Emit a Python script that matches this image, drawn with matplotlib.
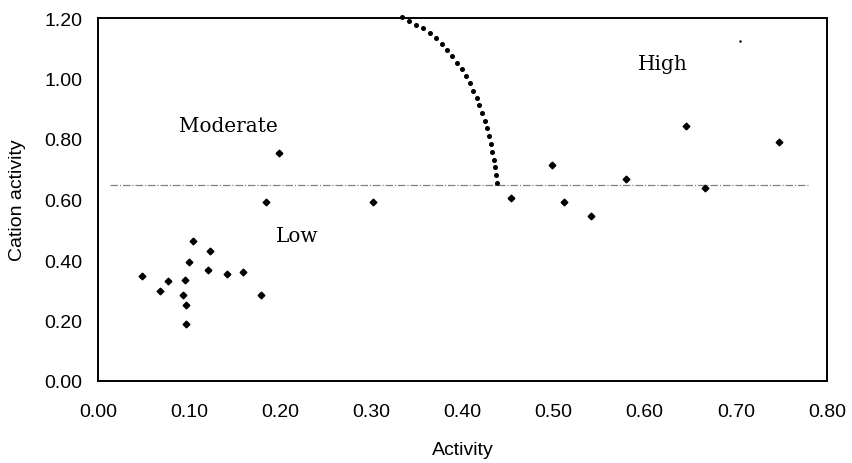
import matplotlib
matplotlib.use("Agg")
import matplotlib.pyplot as plt

# Scatter data (Activity, Cation activity)
activity = [0.048, 0.068, 0.0765, 0.093, 0.0955, 0.097, 0.097, 0.0995, 0.104,
            0.121, 0.1226, 0.142, 0.159, 0.1786, 0.1844, 0.199, 0.3015,
            0.4537, 0.4987, 0.511, 0.5407, 0.579, 0.645, 0.666, 0.7468]
cation = [0.348, 0.296, 0.330, 0.284, 0.335, 0.251, 0.187, 0.392, 0.463,
          0.367, 0.431, 0.354, 0.360, 0.283, 0.592, 0.753, 0.592,
          0.605, 0.714, 0.592, 0.546, 0.668, 0.842, 0.637, 0.791]

# stray mark
stray_x = [0.704]
stray_y = [1.125]

# Boundary curve (dotted)
curve_x = [0.334, 0.3418, 0.349, 0.357, 0.3644, 0.371, 0.3773, 0.3834, 0.389,
           0.3944, 0.3992, 0.404, 0.408, 0.412, 0.4157, 0.4186, 0.4219, 0.4245,
           0.427, 0.4292, 0.431, 0.4328, 0.4343, 0.4358, 0.4369, 0.4376]
curve_y = [1.202, 1.191, 1.178, 1.166, 1.149, 1.133, 1.114, 1.094, 1.073,
           1.052, 1.030, 1.007, 0.984, 0.960, 0.936, 0.911, 0.885, 0.861,
           0.836, 0.810, 0.783, 0.758, 0.732, 0.706, 0.681, 0.655]

# Horizontal threshold line
thresh_y = 0.648
thresh_x = [0.013, 0.779]

# Region labels
region_labels = ["Moderate", "Low", "High"]
region_x = [0.143, 0.219, 0.620]
region_y = [0.843, 0.480, 1.051]

xticks = [0.0, 0.1, 0.2, 0.3, 0.4, 0.5, 0.6, 0.7, 0.8]
yticks = [0.0, 0.2, 0.4, 0.6, 0.8, 1.0, 1.2]

plt.rcParams['font.family'] = ['Liberation Sans', 'DejaVu Sans']

fig = plt.figure(figsize=(8.52, 4.64), dpi=100)
ax = fig.add_axes([98/852, 1 - 382/464, (827-98)/852, (382-19)/464])

ax.plot(thresh_x, [thresh_y, thresh_y], color='#808080', lw=0.9,
        linestyle=(0, (6, 1.5, 1, 1.5)), zorder=1)
ax.plot(curve_x, curve_y, linestyle='none', marker='o', ms=2.6,
        color='black', clip_on=False, zorder=3)
ax.plot(activity, cation, linestyle='none', marker='D', ms=3.4,
        color='black', zorder=3)
ax.plot(stray_x, stray_y, linestyle='none', marker='.', ms=1.5,
        color='black', zorder=3)

for lab, x, y in zip(region_labels, region_x, region_y):
    ax.text(x, y, lab, ha='center', va='center', fontsize=14.4,
            family=['DejaVu Serif'])

ax.set_xlim(0, 0.8)
ax.set_ylim(0, 1.2)
ax.set_xticks(xticks)
ax.set_yticks(yticks)
ax.set_xticklabels([f"{v:.2f}" for v in xticks])
ax.set_yticklabels([f"{v:.2f}" for v in yticks])
ax.tick_params(axis='both', length=0, labelsize=14)
ax.tick_params(axis='x', pad=16)
ax.tick_params(axis='y', pad=11.5)
for s in ax.spines.values():
    s.set_linewidth(1.4)
    s.set_color('black')

ax.set_xlabel("Activity", fontsize=14, labelpad=15)
ax.set_ylabel("Cation activity", fontsize=14, labelpad=13)

fig.savefig("out.png", dpi=100)
